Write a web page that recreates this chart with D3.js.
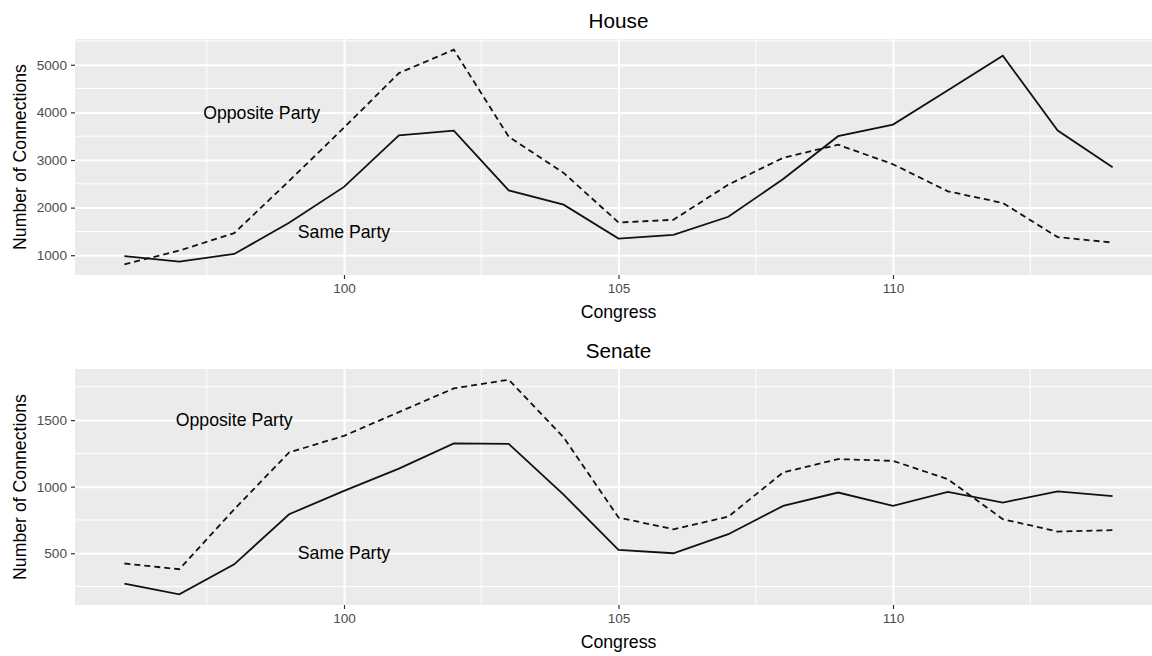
<!DOCTYPE html>
<html>
<head>
<meta charset="utf-8">
<script src="https://cdn.jsdelivr.net/npm/d3@7"></script>
<style>
  body { margin: 0; background: #fff; }
  text { font-family: "Liberation Sans", Arial, Helvetica, sans-serif; }
  .tick-label { fill: #4d4d4d; font-size: 13.6px; }
  .axis-title { fill: #000; font-size: 17.7px; }
  .panel-title { fill: #000; font-size: 20.7px; }
  .annot { fill: #000; font-size: 17.7px; }
</style>
</head>
<body>
<div id="viz_container"></div>
<script>
// data
const congress = [96, 97, 98, 99, 100, 101, 102, 103, 104, 105, 106, 107, 108, 109, 110, 111, 112, 113, 114];
const houseSame = [979, 865, 1027, 1680, 2435, 3517, 3616, 2363, 2061, 1350, 1428, 1808, 2600, 3500, 3743, 4466, 5190, 3620, 2848];
const houseOpposite = [810, 1097, 1464, 2560, 3680, 4825, 5316, 3489, 2730, 1688, 1745, 2483, 3046, 3321, 2911, 2342, 2097, 1380, 1266];
const senateSame = [272, 192, 417, 793, 968, 1135, 1325, 1322, 940, 525, 500, 643, 856, 956, 856, 961, 881, 964, 929];
const senateOpposite = [423, 380, 830, 1257, 1382, 1560, 1738, 1803, 1370, 768, 680, 775, 1107, 1207, 1194, 1056, 756, 663, 673];

const xTicks = [100, 105, 110];
const houseYTicks = [1000, 2000, 3000, 4000, 5000];
const senateYTicks = [500, 1000, 1500];

// label positions (data units)
const houseLabels = [
    { text: "Opposite Party", x: 98.5, y: 4000 },
    { text: "Same Party", x: 100, y: 1500 }
];
const senateLabels = [
    { text: "Opposite Party", x: 98.0, y: 1500 },
    { text: "Same Party", x: 100, y: 500 }
];

const W = 1152, H = 656;
const svg = d3.select("#viz_container")
    .append("svg")
    .attr("width", W)
    .attr("height", H);

// ggplot-like 5% expansion
function expand(ext) {
    const r = ext[1] - ext[0];
    return [ext[0] - r * 0.05, ext[1] + r * 0.05];
}

function panel(opts) {
    const left = 75, right = 1162;
    const top = opts.top, bottom = opts.top + 236;

    const x = d3.scaleLinear()
        .domain(expand(d3.extent(congress)))
        .range([left, right]);
    const y = d3.scaleLinear()
        .domain(expand(d3.extent(opts.same.concat(opts.opposite))))
        .range([bottom, top]);

    const g = svg.append("g");

    // panel background
    g.append("rect")
        .attr("x", left).attr("y", top)
        .attr("width", right - left).attr("height", bottom - top)
        .attr("fill", "#ebebeb");

    // minor grid
    const step = opts.yTicks[1] - opts.yTicks[0];
    const yMinor = [];
    for (let i = 0; i <= opts.yTicks.length; i++) {
        yMinor.push(opts.yTicks[0] - step / 2 + i * step);
    }
    const xMinor = [97.5, 102.5, 107.5, 112.5];
    g.selectAll(".ymin").data(yMinor.filter(v => y(v) > top && y(v) < bottom))
        .join("line")
        .attr("x1", left).attr("x2", right)
        .attr("y1", d => y(d)).attr("y2", d => y(d))
        .attr("stroke", "#fff").attr("stroke-width", 1);
    g.selectAll(".xmin").data(xMinor)
        .join("line")
        .attr("y1", top).attr("y2", bottom)
        .attr("x1", d => x(d)).attr("x2", d => x(d))
        .attr("stroke", "#fff").attr("stroke-width", 1);

    // major grid
    g.append("g")
        .attr("transform", `translate(${left},0)`)
        .call(d3.axisLeft(y).tickValues(opts.yTicks).tickSize(-(right - left)).tickFormat(""))
        .call(a => a.select(".domain").remove())
        .call(a => a.selectAll("line").attr("stroke", "#fff").attr("stroke-width", 2));
    g.append("g")
        .attr("transform", `translate(0,${bottom})`)
        .call(d3.axisBottom(x).tickValues(xTicks).tickSize(-(bottom - top)).tickFormat(""))
        .call(a => a.select(".domain").remove())
        .call(a => a.selectAll("line").attr("stroke", "#fff").attr("stroke-width", 2));

    // axes
    const yAxis = g.append("g")
        .attr("transform", `translate(${left},0)`)
        .call(d3.axisLeft(y).tickValues(opts.yTicks).tickFormat(d3.format("d")).tickSize(4).tickPadding(4));
    const xAxis = g.append("g")
        .attr("transform", `translate(0,${bottom})`)
        .call(d3.axisBottom(x).tickValues(xTicks).tickFormat(d3.format("d")).tickSize(4).tickPadding(4));
    [xAxis, yAxis].forEach(a => {
        a.select(".domain").remove();
        a.selectAll("line").attr("stroke", "#333").attr("stroke-width", 1.2);
        a.selectAll("text").attr("class", "tick-label").attr("fill", null);
        a.attr("font-family", null).attr("font-size", null);
    });

    // lines
    const line = d3.line()
        .x((d, i) => x(congress[i]))
        .y(d => y(d));
    g.append("path")
        .datum(opts.opposite)
        .attr("d", line)
        .attr("fill", "none")
        .attr("stroke", "#111")
        .attr("stroke-width", 1.8)
        .attr("stroke-dasharray", "6,4");
    g.append("path")
        .datum(opts.same)
        .attr("d", line)
        .attr("fill", "none")
        .attr("stroke", "#111")
        .attr("stroke-width", 1.8);

    // annotations
    g.selectAll(".annot").data(opts.labels)
        .join("text")
        .attr("class", "annot")
        .attr("x", d => x(d.x))
        .attr("y", d => y(d.y))
        .attr("dy", "0.35em")
        .attr("text-anchor", "middle")
        .text(d => d.text);

    // title
    g.append("text")
        .attr("class", "panel-title")
        .attr("x", (left + right) / 2)
        .attr("y", top - 11)
        .attr("text-anchor", "middle")
        .text(opts.title);

    // x axis title
    g.append("text")
        .attr("class", "axis-title")
        .attr("x", (left + right) / 2)
        .attr("y", bottom + 43)
        .attr("text-anchor", "middle")
        .text("Congress");

    // y axis title
    g.append("text")
        .attr("class", "axis-title")
        .attr("transform", `translate(26,${(top + bottom) / 2}) rotate(-90)`)
        .attr("text-anchor", "middle")
        .text("Number of Connections");
}

panel({ title: "House", top: 39, same: houseSame, opposite: houseOpposite, yTicks: houseYTicks, labels: houseLabels });
panel({ title: "Senate", top: 369, same: senateSame, opposite: senateOpposite, yTicks: senateYTicks, labels: senateLabels });
</script>
</body>
</html>
